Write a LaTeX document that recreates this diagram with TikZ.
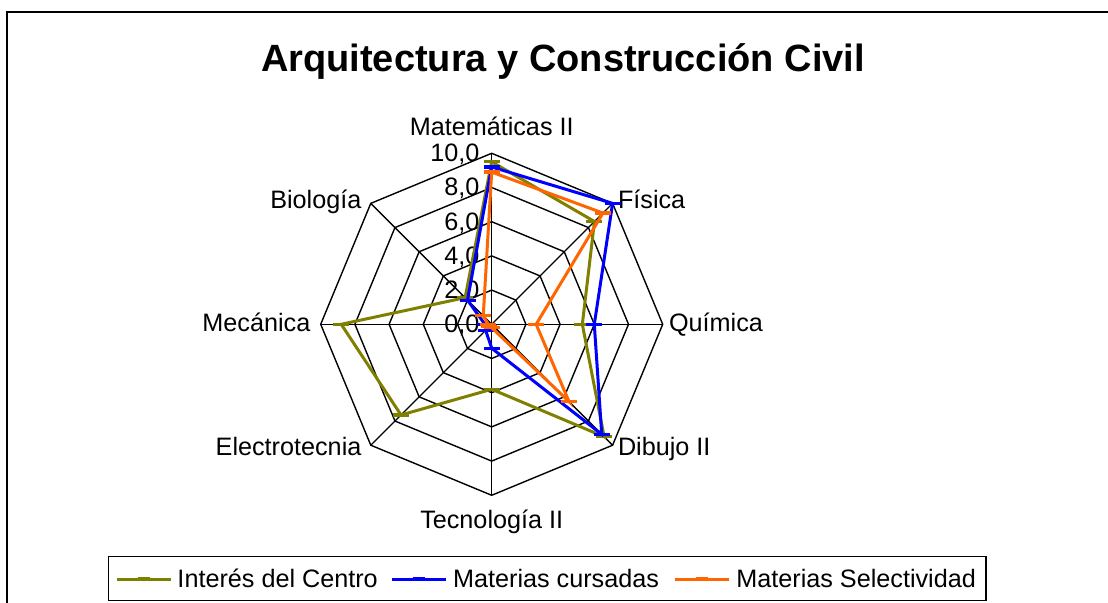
\documentclass[tikz,border=0pt]{standalone}
\usepackage{fontspec}
\setmainfont{Liberation Sans}
\usetikzlibrary{positioning}

\definecolor{intcolor}{RGB}{128,128,0}
\definecolor{curcolor}{RGB}{0,0,255}
\definecolor{selcolor}{RGB}{255,102,0}

\tikzset {
  web line/.style = {
    draw = black,
    line width = 0.7pt
  },
  % outer frame of the chart
  chart frame/.style = {
    draw = black,
    line width = 1.1pt
  },
  legend frame/.style = {
    draw = black,
    line width = 0.75pt
  },
  % one line per data series
  series/.style = {
    draw = #1,
    line width = 1.5pt
  },
  dash marker/.style = {
    draw = #1,
    line width = 1.6pt
  }
}
\tikzset {
  label text/.style = {
    font = \fontsize{12.6}{15}\selectfont,
    inner sep = 0
  },
  axis label/.style = {
    label text
  },
  tick label/.style = {
    label text,
    anchor = base east
  },
  legend text/.style = {
    label text,
    text height = 1.6ex,
    text depth = 0.25ex
  },
  chart title/.style = {
    font = \fontsize{19}{23}\selectfont\bfseries,
    inner sep = 0,
    anchor = base
  }
}

\begin{document}
\begin{tikzpicture}[x=0.5pt, y=0.5pt]
    \useasboundingbox (-491.7,-278.7) rectangle (616.3,324.3);
    \draw[chart frame] (-484.7,-278.7) -- (-484.7,312.6) -- (616.3,312.6);

    \node[chart title] (title) at (71.3,252.3) {Arquitectura y Construcción Civil};

    \coordinate (center) at (0,0);
    \foreach \a/\n in {90/mat, 45/fis, 0/qui, -45/dib, -90/tec, -135/ele, 180/mec, 135/bio}
      \coordinate (ax-\n) at (\a:171);

    % web
    \foreach \r in {34.2, 68.4, 102.6, 136.8, 171}
      \draw[web line] (90:\r) -- (45:\r) -- (0:\r) -- (-45:\r) -- (-90:\r) -- (-135:\r) -- (180:\r) -- (135:\r) -- cycle;
    \foreach \n in {mat, fis, qui, dib, tec, ele, mec, bio}
      \draw[web line] (center) -- (ax-\n);

    \foreach \v in {0,2,...,10}
      \node[tick label] (tick-\v) at (-12,\v*17.1-8.5) {\v,0};

    \node[axis label, anchor=base] (lab-mat) at ([yshift=9pt]ax-mat) {Matemáticas II};
    \node[axis label, anchor=base west] (lab-fis) at ([shift={(5,-5)}]ax-fis) {Física};
    \node[axis label, anchor=base west] (lab-qui) at ([shift={(6,-7)}]ax-qui) {Química};
    \node[axis label, anchor=base west] (lab-dib) at ([shift={(5,-10)}]ax-dib) {Dibujo II};
    \node[axis label, anchor=base] (lab-tec) at ([shift={(0,-33)}]ax-tec) {Tecnología II};
    \node[axis label, anchor=base east] (lab-ele) at ([shift={(-9,-10)}]ax-ele) {Electrotecnia};
    \node[axis label, anchor=base east] (lab-mec) at ([shift={(-10,-7)}]ax-mec) {Mecánica};
    \node[axis label, anchor=base east] (lab-bio) at ([shift={(-9,-5)}]ax-bio) {Biología};

    % series: Interés del Centro
    \foreach \v [count=\i] in {9.5,8.5,5.3,9.3,3.8,7.5,8.8,2.2}
      \coordinate (int-\i) at ({135-45*\i}:{\v*17.1});
    \draw[series=intcolor] (int-1) -- (int-2) -- (int-3) -- (int-4) -- (int-5) -- (int-6) -- (int-7) -- (int-8) -- cycle;
    \foreach \i in {1,...,8}
      \draw[dash marker=intcolor] ([xshift=-4pt]int-\i) -- ([xshift=4pt]int-\i);

    % series: Materias cursadas
    \foreach \v [count=\i] in {9.2,10,6.0,9.1,1.4,0.5,0.4,2.0}
      \coordinate (cur-\i) at ({135-45*\i}:{\v*17.1});
    \draw[series=curcolor] (cur-1) -- (cur-2) -- (cur-3) -- (cur-4) -- (cur-5) -- (cur-6) -- (cur-7) -- (cur-8) -- cycle;
    \foreach \i in {1,...,8}
      \draw[dash marker=curcolor] ([xshift=-4pt]cur-\i) -- ([xshift=4pt]cur-\i);

    % series: Materias Selectividad
    \foreach \v [count=\i] in {8.9,9.2,2.6,6.4,0.2,0.2,0.2,0.7}
      \coordinate (sel-\i) at ({135-45*\i}:{\v*17.1});
    \draw[series=selcolor] (sel-1) -- (sel-2) -- (sel-3) -- (sel-4) -- (sel-5) -- (sel-6) -- (sel-7) -- (sel-8) -- cycle;
    \foreach \i in {1,...,8}
      \draw[dash marker=selcolor] ([xshift=-4pt]sel-\i) -- ([xshift=4pt]sel-\i);

    % legend
    \draw[legend frame] (-383.4,-276.4) rectangle (494.3,-232.4);
    \coordinate (leg-int-a) at (-375,-255.7);
    \coordinate[right=27pt of leg-int-a] (leg-int-b);
    \coordinate[right=13.5pt of leg-int-a] (leg-int-m);
    \node[legend text, right=3.2pt of leg-int-b] (leg-int) {Interés del Centro};
    \coordinate (leg-cur-a) at (-100,-255.7);
    \coordinate[right=27pt of leg-cur-a] (leg-cur-b);
    \coordinate[right=13.5pt of leg-cur-a] (leg-cur-m);
    \node[legend text, right=3.5pt of leg-cur-b] (leg-cur) {Materias cursadas};
    \coordinate (leg-sel-a) at (183.3,-255.7);
    \coordinate[right=27pt of leg-sel-a] (leg-sel-b);
    \coordinate[right=13.5pt of leg-sel-a] (leg-sel-m);
    \node[legend text, right=3.5pt of leg-sel-b] (leg-sel) {Materias Selectividad};

    \draw[series=intcolor] (leg-int-a) -- (leg-int-b);
    \draw[dash marker=intcolor] ([shift={(-6,1)}]leg-int-m) -- ([shift={(6,1)}]leg-int-m);
    \draw[series=curcolor] (leg-cur-a) -- (leg-cur-b);
    \draw[dash marker=curcolor] ([shift={(-6,1)}]leg-cur-m) -- ([shift={(6,1)}]leg-cur-m);
    \draw[series=selcolor] (leg-sel-a) -- (leg-sel-b);
    \draw[dash marker=selcolor] ([shift={(-6,1)}]leg-sel-m) -- ([shift={(6,1)}]leg-sel-m);
\end{tikzpicture}
\end{document}
